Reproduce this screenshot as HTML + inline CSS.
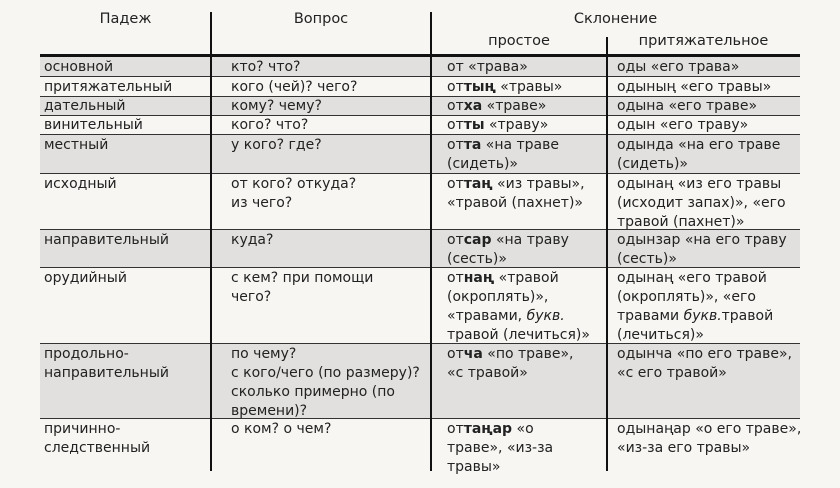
<!DOCTYPE html>
<html><head><meta charset="utf-8"><style>
body{margin:0;width:840px;height:488px;background:#f7f6f3;position:relative;overflow:hidden;font-family:"DejaVu Sans","Liberation Sans",sans-serif;font-size:14px;color:#222;}
.r{position:absolute;left:40px;width:760px;border-top:1px solid #333;box-sizing:border-box}
.g{background:#e1e0de}
.c{position:absolute;top:1px;line-height:19px;white-space:nowrap}
.c1{left:4px}.c2{left:191px}.c3{left:407px}.c4{left:577px}
.v{position:absolute;width:2px;background:#111}
.h{position:absolute;text-align:center;font-size:14.5px}
b{font-weight:bold}
</style></head><body>
<div class="h" style="left:40px;width:171px;top:11px">Падеж</div>
<div class="h" style="left:211px;width:220px;top:11px">Вопрос</div>
<div class="h" style="left:431px;width:369px;top:11px">Склонение</div>
<div class="h" style="left:431px;width:176px;top:33px">простое</div>
<div class="h" style="left:607px;width:193px;top:33px">притяжательное</div>

<div class="r g" style="top:54px;height:22px;border-top:3px solid #111"><div class="c c1">основной</div><div class="c c2">кто? что?</div><div class="c c3">от «трава»</div><div class="c c4">оды «его трава»</div></div>
<div class="r" style="top:76px;height:20px"><div class="c c1">притяжательный</div><div class="c c2">кого (чей)? чего?</div><div class="c c3">от<b>тың</b> «травы»</div><div class="c c4">одының «его травы»</div></div>
<div class="r g" style="top:96px;height:19px"><div class="c c1" style="top:0">дательный</div><div class="c c2" style="top:0">кому? чему?</div><div class="c c3" style="top:0">от<b>ха</b> «траве»</div><div class="c c4" style="top:0">одына «его траве»</div></div>
<div class="r" style="top:115px;height:19px"><div class="c c1" style="top:0">винительный</div><div class="c c2" style="top:0">кого? что?</div><div class="c c3" style="top:0">от<b>ты</b> «траву»</div><div class="c c4" style="top:0">одын «его траву»</div></div>
<div class="r g" style="top:134px;height:39px"><div class="c c1">местный</div><div class="c c2">у кого? где?</div><div class="c c3">от<b>та</b> «на траве<br>(сидеть)»</div><div class="c c4">одында «на его траве<br>(сидеть)»</div></div>
<div class="r" style="top:173px;height:56px"><div class="c c1">исходный</div><div class="c c2">от кого? откуда?<br>из чего?</div><div class="c c3">от<b>таң</b> «из травы»,<br>«травой (пахнет)»</div><div class="c c4">одынаң «из его травы<br>(исходит запах)», «его<br>травой (пахнет)»</div></div>
<div class="r g" style="top:229px;height:38px"><div class="c c1">направительный</div><div class="c c2">куда?</div><div class="c c3">от<b>сар</b> «на траву<br>(сесть)»</div><div class="c c4">одынзар «на его траву<br>(сесть)»</div></div>
<div class="r" style="top:267px;height:76px"><div class="c c1">орудийный</div><div class="c c2">с кем? при помощи<br>чего?</div><div class="c c3">от<b>наң</b> «травой<br>(окроплять)»,<br>«травами, <i>букв.</i><br>травой (лечиться)»</div><div class="c c4">одынаң «его травой<br>(окроплять)», «его<br>травами <i>букв.</i>травой<br>(лечиться)»</div></div>
<div class="r g" style="top:343px;height:75px"><div class="c c1">продольно-<br>направительный</div><div class="c c2">по чему?<br>с кого/чего (по размеру)?<br>сколько примерно (по<br>времени)?</div><div class="c c3">от<b>ча</b> «по траве»,<br>«с травой»</div><div class="c c4">одынча «по его траве»,<br>«с его травой»</div></div>
<div class="r" style="top:418px;height:52px"><div class="c c1">причинно-<br>следственный</div><div class="c c2">о ком? о чем?</div><div class="c c3">от<b>таңар</b> «о<br>траве», «из-за<br>травы»</div><div class="c c4">одынаңар «о его траве»,<br>«из-за его травы»</div></div>

<div class="v" style="left:210px;top:12px;height:459px"></div>
<div class="v" style="left:430px;top:12px;height:459px"></div>
<div class="v" style="left:606px;top:37px;height:434px"></div>
</body></html>
